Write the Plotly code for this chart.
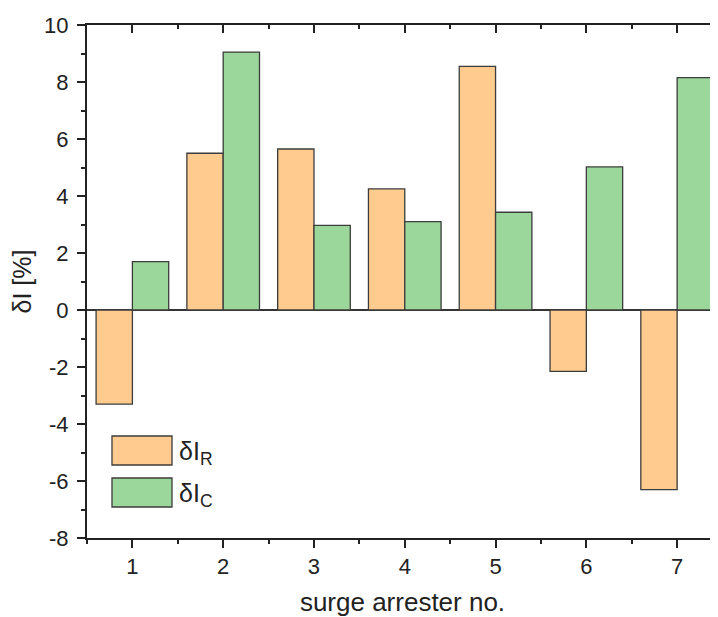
import plotly.graph_objects as go

# ---- data ----
arrester_no = [1, 2, 3, 4, 5, 6, 7]
dI_R = [-3.3, 5.5, 5.65, 4.25, 8.55, -2.15, -6.3]
dI_C = [1.7, 9.05, 2.97, 3.1, 3.43, 5.02, 8.15]
series_names = ["δI<sub>R</sub>", "δI<sub>C</sub>"]
y_ticks = [-8, -6, -4, -2, 0, 2, 4, 6, 8, 10]
y_tick_labels = ["-8", "-6", "-4", "-2", "0", "2", "4", "6", "8", "10"]
x_minor_ticks = [0.5, 1.5, 2.5, 3.5, 4.5, 5.5, 6.5]

# ---- style ----
FONT = "Liberation Sans, Arial, sans-serif"
ORANGE = "#FFCB8F"
GREEN = "#9BD69A"
EDGE = "#3c3c3c"
AX = "#222222"

fig = go.Figure()
fig.add_trace(go.Bar(x=arrester_no, y=dI_R, name=series_names[0], marker=dict(color=ORANGE, line=dict(color=EDGE, width=1.3)), showlegend=False))
fig.add_trace(go.Bar(x=arrester_no, y=dI_C, name=series_names[1], marker=dict(color=GREEN, line=dict(color=EDGE, width=1.3)), showlegend=False))
# invisible trace to activate the mirrored (top / right) axes
fig.add_trace(go.Scatter(x=[arrester_no[0]], y=[0], xaxis="x2", yaxis="y2", mode="markers",
                         marker=dict(opacity=0), showlegend=False, hoverinfo="skip"))

xr = [0.5, 7.45]
yr = [-8, 10]

fig.update_layout(
    width=710, height=609,
    margin=dict(l=79, r=0, t=17, b=79),
    paper_bgcolor="white", plot_bgcolor="white",
    barmode="group", bargap=0.2, bargroupgap=0,
    font=dict(family=FONT, size=22, color=AX),
    xaxis=dict(range=xr, tickvals=arrester_no, ticks="outside", ticklen=8, tickwidth=2, tickcolor=AX,
               minor=dict(tickvals=x_minor_ticks, ticks="outside", ticklen=4, tickwidth=2, tickcolor=AX),
               showline=True, linewidth=2, linecolor=AX, mirror=True, showgrid=False, zeroline=False,
               tickfont=dict(size=22),
               title=dict(text="surge arrester no.", font=dict(size=26), standoff=16)),
    yaxis=dict(range=yr, tickvals=y_ticks, ticktext=y_tick_labels, ticks="outside", ticklen=8, tickwidth=2, tickcolor=AX,
               minor=dict(dtick=1, ticks="outside", ticklen=4, tickwidth=2, tickcolor=AX),
               showline=True, linewidth=2, linecolor=AX, showgrid=False,
               zeroline=True, zerolinecolor="#333333", zerolinewidth=1.5,
               tickfont=dict(size=22), ticklabelstandoff=4,
               title=dict(text="δI [%]", font=dict(size=25), standoff=8)),
    xaxis2=dict(overlaying="x", side="top", anchor="y", matches="x", range=xr,
                tickvals=arrester_no, ticks="inside", ticklen=8, tickwidth=2, tickcolor=AX,
                minor=dict(tickvals=x_minor_ticks, ticks="inside", ticklen=4, tickwidth=2, tickcolor=AX),
                showticklabels=False, showline=False, showgrid=False, zeroline=False),
    yaxis2=dict(overlaying="y", side="right", anchor="x", matches="y", range=yr,
                tickvals=y_ticks, ticks="inside", ticklen=8, tickwidth=2, tickcolor=AX,
                minor=dict(dtick=1, ticks="inside", ticklen=4, tickwidth=2, tickcolor=AX),
                showticklabels=False, showline=False, showgrid=False, zeroline=False),
)

# ---- legend drawn as large boxes (like the original) ----
legend_items = [(ORANGE, series_names[0], 0.1423, 0.1988), (GREEN, series_names[1], 0.0604, 0.117)]
for color, label, y0, y1 in legend_items:
    fig.add_shape(type="rect", xref="paper", yref="paper", x0=0.0396, x1=0.1347, y0=y0, y1=y1,
                  fillcolor=color, line=dict(color=EDGE, width=1.3))
    fig.add_annotation(xref="paper", yref="paper", x=0.142, y=(y0 + y1) / 2 - 0.005,
                       xanchor="left", yanchor="middle", text=label, showarrow=False,
                       font=dict(size=25, family=FONT, color=AX))

fig.write_html("out.html")
